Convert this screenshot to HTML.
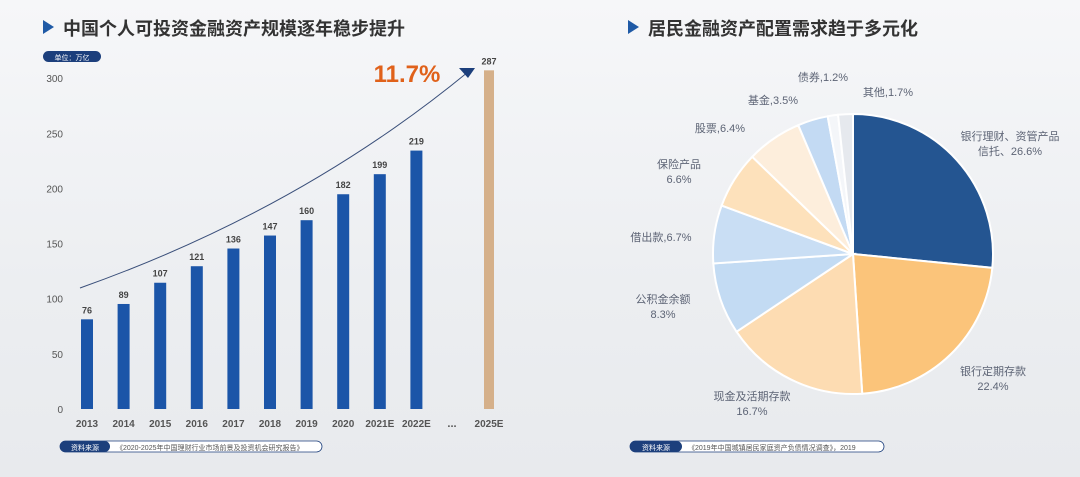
<!DOCTYPE html>
<html><head><meta charset="utf-8"><style>
body{margin:0;width:1080px;height:477px;overflow:hidden;background:linear-gradient(180deg,#f6f7f9 0%,#eceef1 60%,#e8eaed 100%);font-family:"Liberation Sans","Noto Sans CJK SC",sans-serif;}
svg{position:absolute;left:0;top:0}
</style></head><body>
<svg width="1080" height="477" viewBox="0 0 1080 477">
<g>
<polygon points="43,20 43,34 54,27" fill="#1f5aa6"/>
<text x="63" y="35" font-size="18" font-weight="bold" fill="#333">中国个人可投资金融资产规模逐年稳步提升</text>
</g>
<g>
<rect x="43" y="51" width="58" height="11" rx="5.5" fill="#1c3f7c"/>
<text x="72" y="60" font-size="7" fill="#fff" text-anchor="middle">单位：万亿</text>
</g>
<g id="yticks"></g>
<g id="bars"></g>
<g>
<path d="M80,288 Q300,210 468,72" fill="none" stroke="#3a4f7a" stroke-width="1"/>
<polygon points="459,68 475,68 468,78" fill="#1c3f7c"/>
</g>
<text x="407" y="82" font-size="24" font-weight="bold" fill="#e0611a" text-anchor="middle">11.7%</text>
<g>
<rect x="60" y="441" width="262" height="11" rx="5.5" fill="#fff" stroke="#1c3f7c" stroke-width="0.8"/>
<rect x="60" y="441" width="50" height="11" rx="5.5" fill="#1c3f7c"/>
<text x="85" y="450" font-size="7" fill="#fff" text-anchor="middle">资料来源</text>
<text x="116" y="450" font-size="7" fill="#555">《2020-2025年中国理财行业市场前景及投资机会研究报告》</text>
</g>
<g>
<polygon points="628,20 628,34 639,27" fill="#1f5aa6"/>
<text x="648" y="35" font-size="18" font-weight="bold" fill="#333">居民金融资产配置需求趋于多元化</text>
</g>
<g id="pie"></g>
<g>
<rect x="630" y="441" width="254" height="11" rx="5.5" fill="#fff" stroke="#1c3f7c" stroke-width="0.8"/>
<rect x="630" y="441" width="52" height="11" rx="5.5" fill="#1c3f7c"/>
<text x="656" y="450" font-size="7" fill="#fff" text-anchor="middle">资料来源</text>
<text x="688" y="450" font-size="7" fill="#555">《2019年中国城镇居民家庭资产负债情况调查》，2019</text>
</g>
</svg>
<script>
const years=["2013","2014","2015","2016","2017","2018","2019","2020","2021E","2022E","2025E"];
const assets=[76,89,107,121,136,147,160,182,199,219,287];
const tickValues=[0,50,100,150,200,250,300];
const pieLabels=["银行理财、资管产品|信托、26.6%","银行定期存款|22.4%","现金及活期存款|16.7%","公积金余额|8.3%","借出款,6.7%","保险产品|6.6%","股票,6.4%","基金,3.5%","债券,1.2%","其他,1.7%"];
const pieValues=[26.6,22.4,16.7,8.3,6.7,6.6,6.4,3.5,1.2,1.7];
const NS="http://www.w3.org/2000/svg";
function mk(t,a,p){const e=document.createElementNS(NS,t);for(const k in a)e.setAttribute(k,a[k]);p.appendChild(e);return e;}
const base=409;
function yBar(v){return base-v*1.18;}
function yTick(v){return base-v*1.103;}
function xBar(i){return i<10?87+i*36.6:489;}
const yt=document.getElementById('yticks');
tickValues.forEach(v=>{const t=mk('text',{x:63,y:yTick(v)+4,'font-size':10,fill:'#555','text-anchor':'end'},yt);t.textContent=v;

});
const bg=document.getElementById('bars');
assets.forEach((v,i)=>{const last=i===10;const w=last?10:12;
const r=mk('rect',{x:xBar(i)-w/2,y:yBar(v),width:w,height:base-yBar(v),fill:last?'#d5b08a':'#1b55a8'},bg);


const l=mk('text',{x:xBar(i),y:yBar(v)-6,'font-size':9,'font-weight':'bold',fill:'#444','text-anchor':'middle'},bg);l.textContent=v;


const xl=mk('text',{x:xBar(i),y:427,'font-size':10,'font-weight':'bold',fill:'#555','text-anchor':'middle'},bg);xl.textContent=years[i];

});
const dots=mk('text',{x:452,y:427,'font-size':11,'font-weight':'bold',fill:'#555','text-anchor':'middle'},bg);dots.textContent='...';


const colors=["#245591","#fbc47a","#fddcb2","#c3dbf3","#c9def4","#fde1bb","#fdeedc","#c3daf3","#f4f6f9","#e6e9ee"];
const labelPos=[[1010,140],[993,375],[752,400],[663,303],[661,241],[679,168],[720,132],[773,104],[823,81],[888,96]];
const pg=document.getElementById('pie');const cx=853,cy=254,R=140;
let a0=0;const tot=pieValues.reduce((s,v)=>s+v,0);
pieValues.forEach((v,i)=>{const a1=a0+v/tot*Math.PI*2;
const p=(a)=>[cx+R*Math.sin(a),cy-R*Math.cos(a)];const [x0,y0]=p(a0),[x1,y1]=p(a1);
const s=mk('path',{d:`M${cx},${cy}L${x0},${y0}A${R},${R} 0 ${a1-a0>Math.PI?1:0} 1 ${x1},${y1}Z`,fill:colors[i],stroke:'#fff','stroke-width':2},pg);


const lines=pieLabels[i].split('|');const t=mk('text',{x:labelPos[i][0],y:labelPos[i][1],'font-size':11,fill:'#5d6475','text-anchor':'middle'},pg);
lines.forEach((ln,j)=>{const ts=mk('tspan',{x:labelPos[i][0],dy:j?15:0},t);ts.textContent=ln;});


a0=a1;});
</script>
</body></html>
